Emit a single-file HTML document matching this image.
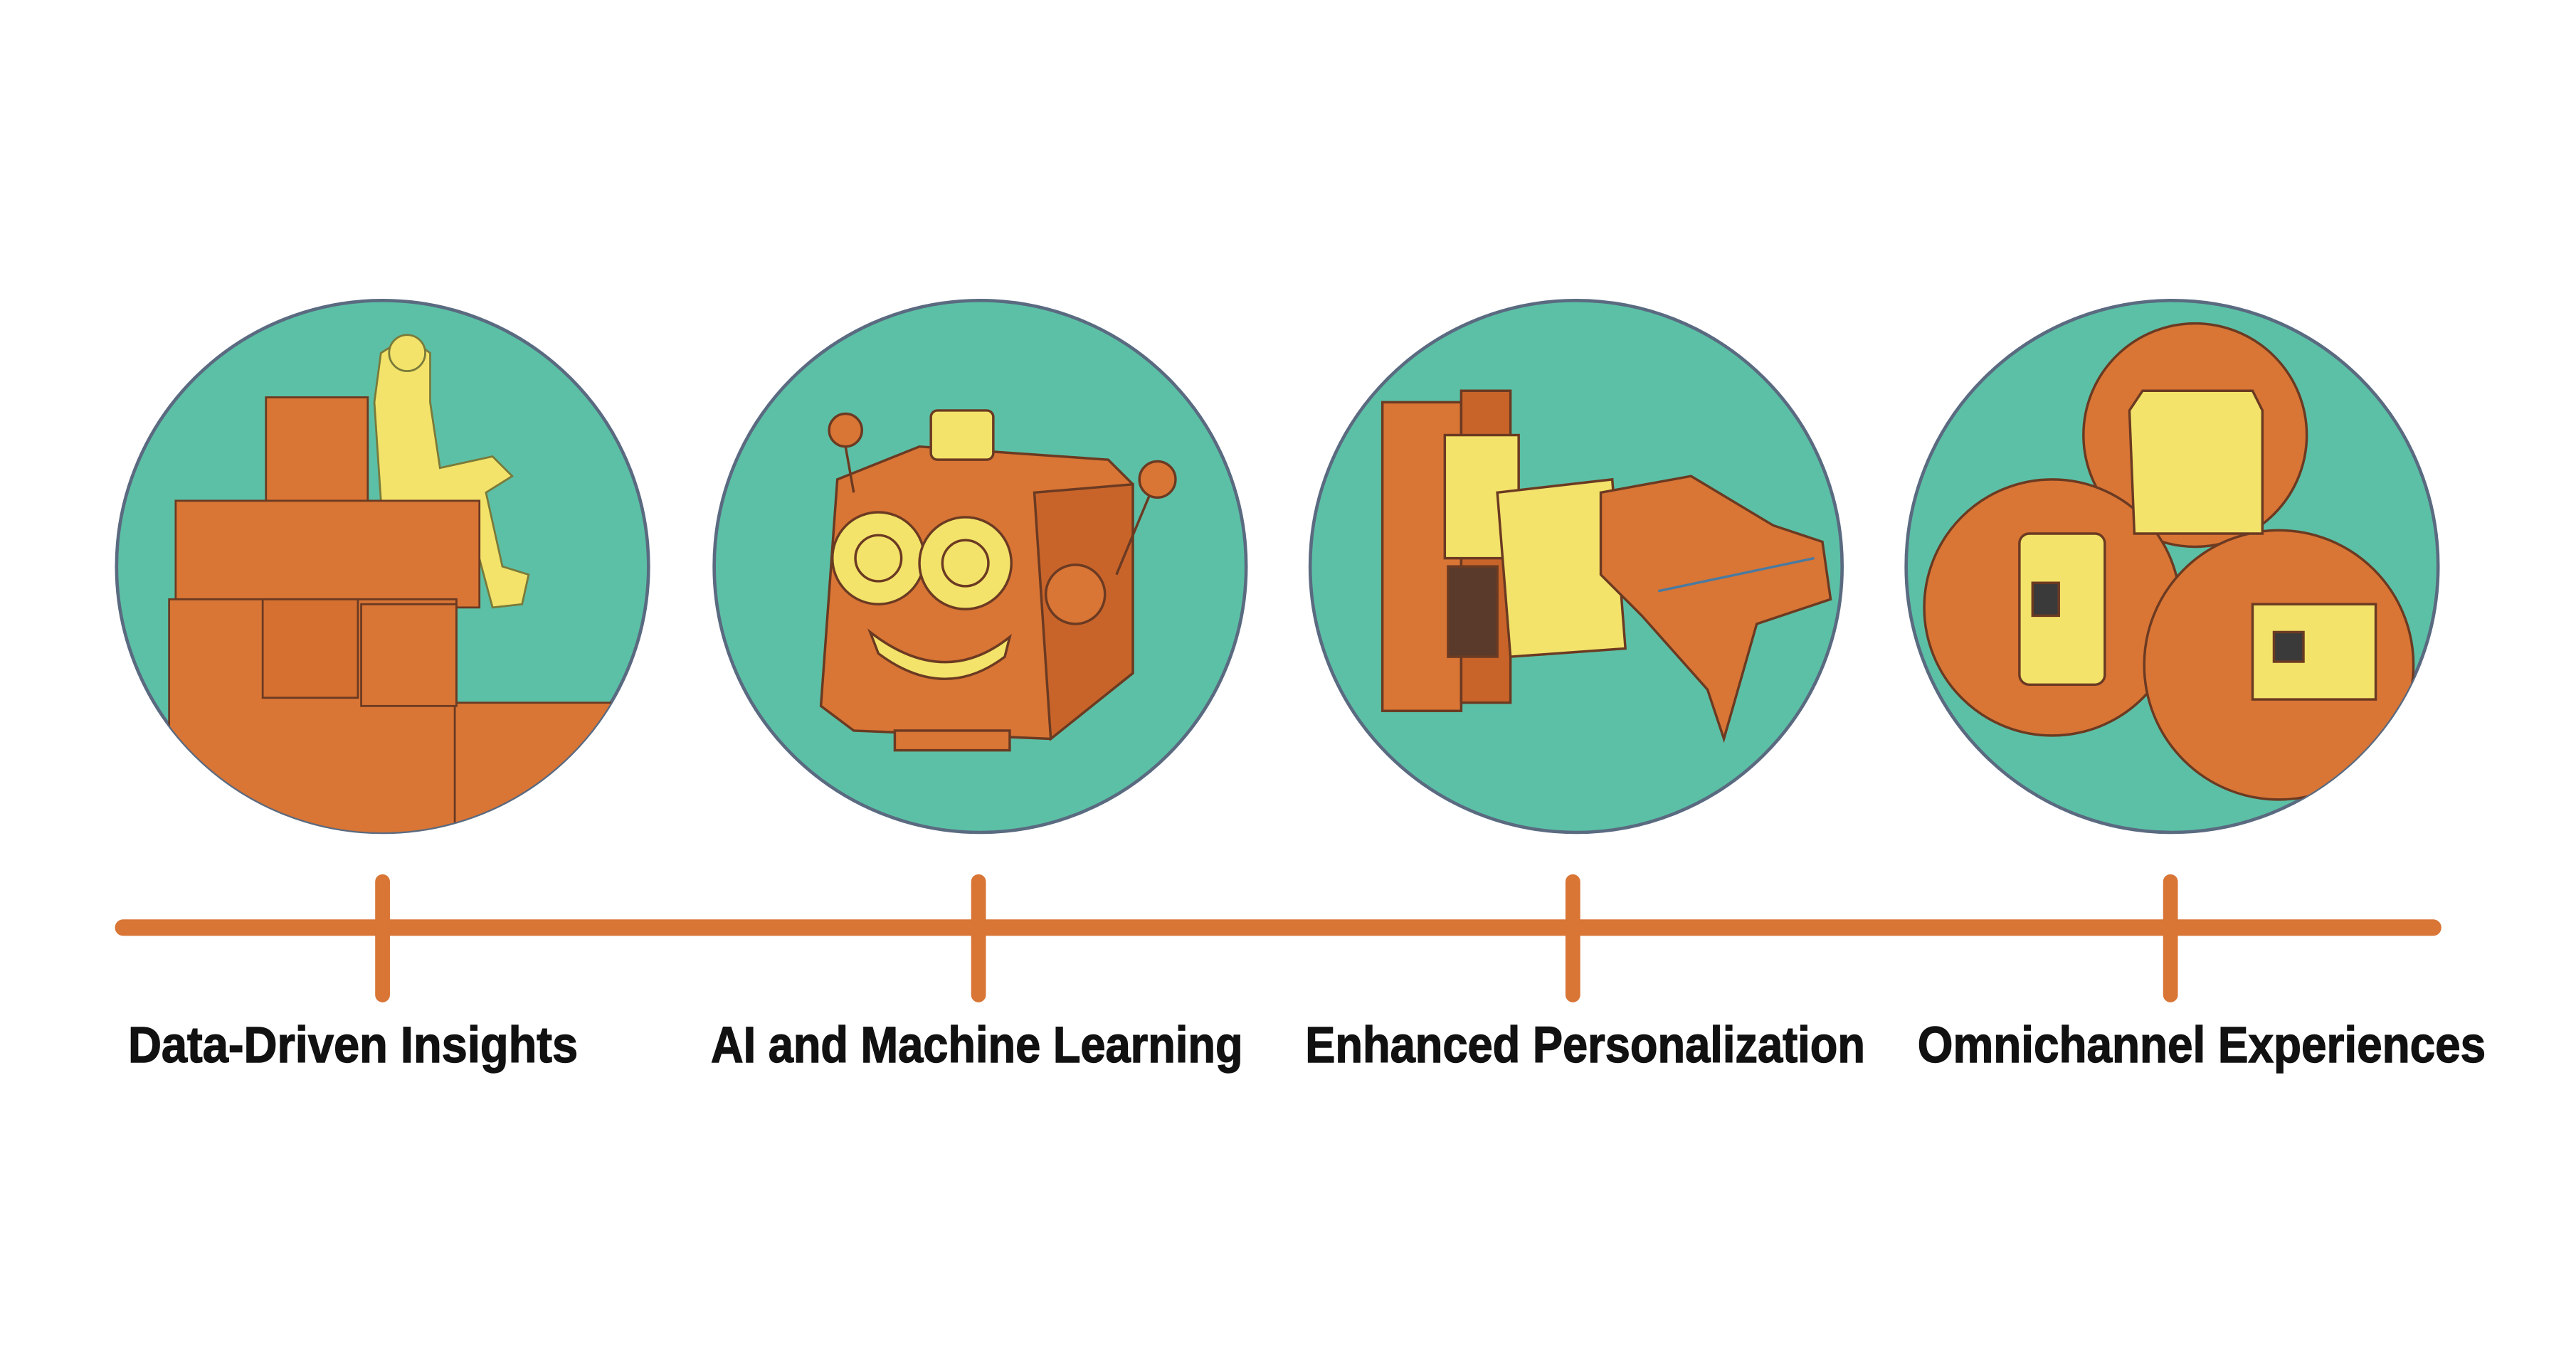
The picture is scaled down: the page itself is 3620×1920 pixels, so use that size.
<!DOCTYPE html>
<html><head><meta charset="utf-8"><style>
html,body{margin:0;padding:0;background:#fff;}
svg{display:block;}
</style></head><body>
<svg width="3620" height="1920" viewBox="0 0 1569 832" preserveAspectRatio="none" xmlns="http://www.w3.org/2000/svg">
<defs>
<clipPath id="c1"><circle cx="233" cy="345" r="162"/></clipPath>
<clipPath id="c2"><circle cx="597" cy="345" r="162"/></clipPath>
<clipPath id="c3"><circle cx="960" cy="345" r="162"/></clipPath>
<clipPath id="c4"><circle cx="1323" cy="345" r="162"/></clipPath>
</defs>
<rect width="1569" height="832" fill="#fff"/>
<g stroke="#5a6a80" stroke-width="2" fill="#5cc0a6">
<circle cx="233" cy="345" r="162"/>
<circle cx="597" cy="345" r="162"/>
<circle cx="960" cy="345" r="162"/>
<circle cx="1323" cy="345" r="162"/>
</g>
<!-- circle 1 -->
<g clip-path="url(#c1)" fill="#d97535" stroke="#6b3a22" stroke-width="1.2">
<path d="M228 245 L232 215 L248 205 L262 215 L262 245 L268 285 L300 278 L312 290 L296 300 L306 345 L322 350 L318 368 L300 370 L286 318 L258 310 L232 305 Z" fill="#f3e36a" stroke="#7a7a3a"/>
<circle cx="248" cy="215" r="11" fill="#f3e36a" stroke="#7a7a3a"/>
<rect x="162" y="242" width="62" height="70"/>
<rect x="107" y="305" width="185" height="65"/>
<rect x="103" y="365" width="175" height="160"/>
<rect x="277" y="428" width="120" height="100"/>
<rect x="160" y="365" width="58" height="60" fill="#d57030"/>
<rect x="220" y="368" width="58" height="62"/>
</g>
<!-- circle 2 -->
<g clip-path="url(#c2)" stroke="#6b3a22" stroke-width="1.5">
<path d="M510 292 L560 272 L675 280 L690 295 L690 410 L640 450 L520 445 L500 430 Z" fill="#d97535"/>
<path d="M630 300 L690 295 L690 410 L640 450 Z" fill="#c8642a"/>
<rect x="567" y="250" width="38" height="30" rx="4" fill="#f3e36a"/>
<circle cx="515" cy="262" r="10" fill="#d97535"/>
<line x1="515" y1="272" x2="520" y2="300"/>
<circle cx="705" cy="292" r="11" fill="#d97535"/>
<line x1="700" y1="302" x2="680" y2="350"/>
<circle cx="655" cy="362" r="18" fill="#d97535"/>
<circle cx="535" cy="340" r="28" fill="#f3e36a"/>
<circle cx="535" cy="340" r="14" fill="none"/>
<circle cx="588" cy="343" r="28" fill="#f3e36a"/>
<circle cx="588" cy="343" r="14" fill="none"/>
<path d="M530 385 Q575 420 615 388 L612 400 Q575 428 535 398 Z" fill="#f3e36a"/>
<rect x="545" y="445" width="70" height="12" fill="#d97535"/>
</g>
<!-- circle 3 -->
<g clip-path="url(#c3)" stroke="#6b3a22" stroke-width="1.5">
<rect x="842" y="245" width="48" height="188" fill="#d97535"/>
<rect x="890" y="238" width="30" height="190" fill="#c8642a"/>
<rect x="880" y="265" width="45" height="75" fill="#f3e36a"/>
<rect x="882" y="345" width="30" height="55" fill="#5a3a2a"/>
<path d="M912 300 L982 292 L990 395 L920 400 Z" fill="#f3e36a"/>
<path d="M975 300 L1030 290 L1080 320 L1110 330 L1115 365 L1070 380 L1050 450 L1040 420 L1000 375 L975 350 Z" fill="#d97535"/>
<line x1="1010" y1="360" x2="1105" y2="340" stroke="#4a7aa0"/>
</g>
<!-- circle 4 -->
<g clip-path="url(#c4)" stroke="#6b3a22" stroke-width="1.5">
<circle cx="1337" cy="265" r="68" fill="#d97535"/>
<circle cx="1250" cy="370" r="78" fill="#d97535"/>
<circle cx="1388" cy="405" r="82" fill="#d97535"/>
<path d="M1297 250 L1305 238 L1372 238 L1378 250 L1378 325 L1300 325 Z" fill="#f3e36a"/>
<rect x="1230" y="325" width="52" height="92" rx="6" fill="#f3e36a"/>
<rect x="1238" y="355" width="16" height="20" fill="#3a3a3a"/>
<rect x="1372" y="368" width="75" height="58" fill="#f3e36a"/>
<rect x="1385" y="385" width="18" height="18" fill="#3a3a3a"/>
</g>
<!-- timeline -->
<g stroke="#d97535" stroke-linecap="round">
<line x1="75" y1="565" x2="1482" y2="565" stroke-width="10"/>
<line x1="233" y1="537" x2="233" y2="606" stroke-width="9"/>
<line x1="596" y1="537" x2="596" y2="606" stroke-width="9"/>
<line x1="958" y1="537" x2="958" y2="606" stroke-width="9"/>
<line x1="1322" y1="537" x2="1322" y2="606" stroke-width="9"/>
</g>
<g font-family="Liberation Sans, sans-serif" font-weight="bold" font-size="31" fill="#111" stroke="#111" stroke-width="0.6">
<text x="78" y="647" textLength="274" lengthAdjust="spacingAndGlyphs">Data-Driven Insights</text>
<text x="433" y="647" textLength="324" lengthAdjust="spacingAndGlyphs">AI and Machine Learning</text>
<text x="795" y="647" textLength="341" lengthAdjust="spacingAndGlyphs">Enhanced Personalization</text>
<text x="1168" y="647" textLength="346" lengthAdjust="spacingAndGlyphs">Omnichannel Experiences</text>
</g>
</svg>
</body></html>
